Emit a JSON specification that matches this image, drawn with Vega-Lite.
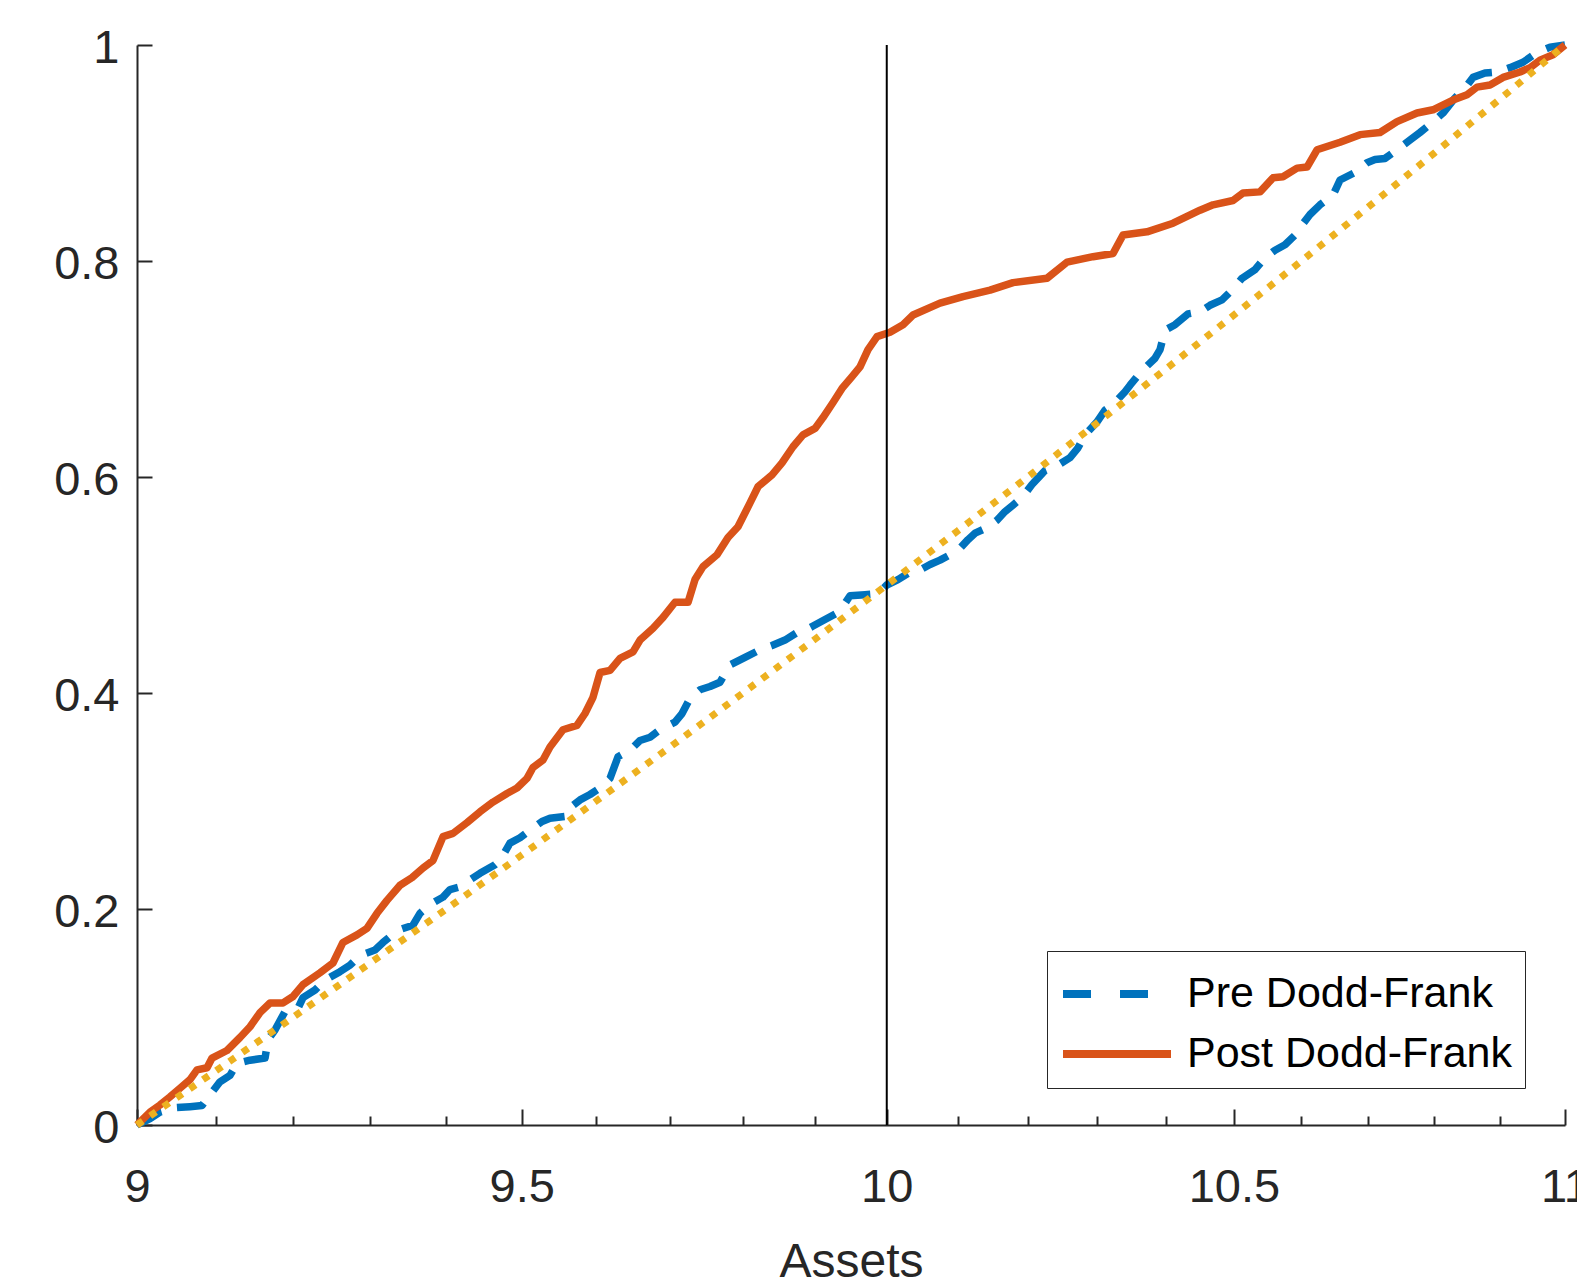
{
  "$schema": "https://vega.github.io/schema/vega-lite/v6.json",
  "width": 1428,
  "height": 1080,
  "autosize": "none",
  "padding": {"left": 137, "top": 45, "right": 12, "bottom": 156},
  "background": "white",
  "config": {"view": {"stroke": null}, "font": "Liberation Sans"},
  "datasets": {
    "curves": [
      {"s":"Pre Dodd-Frank","x":9.0,"y":0},
      {"s":"Pre Dodd-Frank","x":9.0165,"y":0.006},
      {"s":"Pre Dodd-Frank","x":9.0291,"y":0.012},
      {"s":"Pre Dodd-Frank","x":9.0482,"y":0.016},
      {"s":"Pre Dodd-Frank","x":9.0673,"y":0.017},
      {"s":"Pre Dodd-Frank","x":9.0826,"y":0.018},
      {"s":"Pre Dodd-Frank","x":9.0928,"y":0.028},
      {"s":"Pre Dodd-Frank","x":9.1056,"y":0.040},
      {"s":"Pre Dodd-Frank","x":9.1184,"y":0.046},
      {"s":"Pre Dodd-Frank","x":9.1274,"y":0.057},
      {"s":"Pre Dodd-Frank","x":9.1441,"y":0.060},
      {"s":"Pre Dodd-Frank","x":9.1634,"y":0.062},
      {"s":"Pre Dodd-Frank","x":9.1672,"y":0.079},
      {"s":"Pre Dodd-Frank","x":9.1762,"y":0.088},
      {"s":"Pre Dodd-Frank","x":9.1891,"y":0.105},
      {"s":"Pre Dodd-Frank","x":9.2059,"y":0.108},
      {"s":"Pre Dodd-Frank","x":9.2124,"y":0.118},
      {"s":"Pre Dodd-Frank","x":9.2280,"y":0.125},
      {"s":"Pre Dodd-Frank","x":9.2409,"y":0.134},
      {"s":"Pre Dodd-Frank","x":9.2604,"y":0.142},
      {"s":"Pre Dodd-Frank","x":9.2735,"y":0.148},
      {"s":"Pre Dodd-Frank","x":9.2865,"y":0.157},
      {"s":"Pre Dodd-Frank","x":9.3061,"y":0.162},
      {"s":"Pre Dodd-Frank","x":9.3166,"y":0.169},
      {"s":"Pre Dodd-Frank","x":9.3284,"y":0.176},
      {"s":"Pre Dodd-Frank","x":9.3389,"y":0.181},
      {"s":"Pre Dodd-Frank","x":9.3559,"y":0.185},
      {"s":"Pre Dodd-Frank","x":9.3651,"y":0.196},
      {"s":"Pre Dodd-Frank","x":9.3783,"y":0.204},
      {"s":"Pre Dodd-Frank","x":9.3955,"y":0.211},
      {"s":"Pre Dodd-Frank","x":9.4047,"y":0.218},
      {"s":"Pre Dodd-Frank","x":9.4153,"y":0.220},
      {"s":"Pre Dodd-Frank","x":9.4312,"y":0.227},
      {"s":"Pre Dodd-Frank","x":9.4444,"y":0.233},
      {"s":"Pre Dodd-Frank","x":9.4644,"y":0.241},
      {"s":"Pre Dodd-Frank","x":9.4710,"y":0.245},
      {"s":"Pre Dodd-Frank","x":9.4843,"y":0.261},
      {"s":"Pre Dodd-Frank","x":9.4977,"y":0.266},
      {"s":"Pre Dodd-Frank","x":9.5150,"y":0.275},
      {"s":"Pre Dodd-Frank","x":9.5271,"y":0.281},
      {"s":"Pre Dodd-Frank","x":9.5378,"y":0.284},
      {"s":"Pre Dodd-Frank","x":9.5620,"y":0.286},
      {"s":"Pre Dodd-Frank","x":9.5687,"y":0.296},
      {"s":"Pre Dodd-Frank","x":9.5781,"y":0.301},
      {"s":"Pre Dodd-Frank","x":9.5916,"y":0.306},
      {"s":"Pre Dodd-Frank","x":9.6051,"y":0.312},
      {"s":"Pre Dodd-Frank","x":9.6186,"y":0.321},
      {"s":"Pre Dodd-Frank","x":9.6294,"y":0.341},
      {"s":"Pre Dodd-Frank","x":9.6456,"y":0.347},
      {"s":"Pre Dodd-Frank","x":9.6592,"y":0.356},
      {"s":"Pre Dodd-Frank","x":9.6728,"y":0.359},
      {"s":"Pre Dodd-Frank","x":9.6864,"y":0.366},
      {"s":"Pre Dodd-Frank","x":9.7068,"y":0.373},
      {"s":"Pre Dodd-Frank","x":9.7164,"y":0.381},
      {"s":"Pre Dodd-Frank","x":9.7273,"y":0.395},
      {"s":"Pre Dodd-Frank","x":9.7410,"y":0.403},
      {"s":"Pre Dodd-Frank","x":9.7547,"y":0.406},
      {"s":"Pre Dodd-Frank","x":9.7684,"y":0.410},
      {"s":"Pre Dodd-Frank","x":9.7821,"y":0.426},
      {"s":"Pre Dodd-Frank","x":9.8028,"y":0.433},
      {"s":"Pre Dodd-Frank","x":9.8235,"y":0.440},
      {"s":"Pre Dodd-Frank","x":9.8401,"y":0.444},
      {"s":"Pre Dodd-Frank","x":9.8580,"y":0.449},
      {"s":"Pre Dodd-Frank","x":9.8747,"y":0.456},
      {"s":"Pre Dodd-Frank","x":9.8858,"y":0.458},
      {"s":"Pre Dodd-Frank","x":9.8969,"y":0.462},
      {"s":"Pre Dodd-Frank","x":9.9136,"y":0.468},
      {"s":"Pre Dodd-Frank","x":9.9303,"y":0.474},
      {"s":"Pre Dodd-Frank","x":9.9415,"y":0.483},
      {"s":"Pre Dodd-Frank","x":9.9485,"y":0.490},
      {"s":"Pre Dodd-Frank","x":9.9695,"y":0.491},
      {"s":"Pre Dodd-Frank","x":9.9877,"y":0.492},
      {"s":"Pre Dodd-Frank","x":10.0,"y":0.500},
      {"s":"Pre Dodd-Frank","x":10.0158,"y":0.505},
      {"s":"Pre Dodd-Frank","x":10.0327,"y":0.512},
      {"s":"Pre Dodd-Frank","x":10.0469,"y":0.514},
      {"s":"Pre Dodd-Frank","x":10.0610,"y":0.519},
      {"s":"Pre Dodd-Frank","x":10.0751,"y":0.523},
      {"s":"Pre Dodd-Frank","x":10.0893,"y":0.528},
      {"s":"Pre Dodd-Frank","x":10.1035,"y":0.534},
      {"s":"Pre Dodd-Frank","x":10.1148,"y":0.542},
      {"s":"Pre Dodd-Frank","x":10.1248,"y":0.548},
      {"s":"Pre Dodd-Frank","x":10.1419,"y":0.553},
      {"s":"Pre Dodd-Frank","x":10.1561,"y":0.560},
      {"s":"Pre Dodd-Frank","x":10.1676,"y":0.568},
      {"s":"Pre Dodd-Frank","x":10.1790,"y":0.574},
      {"s":"Pre Dodd-Frank","x":10.1919,"y":0.581},
      {"s":"Pre Dodd-Frank","x":10.2062,"y":0.593},
      {"s":"Pre Dodd-Frank","x":10.2177,"y":0.601},
      {"s":"Pre Dodd-Frank","x":10.2249,"y":0.606},
      {"s":"Pre Dodd-Frank","x":10.2436,"y":0.611},
      {"s":"Pre Dodd-Frank","x":10.2609,"y":0.618},
      {"s":"Pre Dodd-Frank","x":10.2724,"y":0.627},
      {"s":"Pre Dodd-Frank","x":10.2825,"y":0.639},
      {"s":"Pre Dodd-Frank","x":10.2999,"y":0.651},
      {"s":"Pre Dodd-Frank","x":10.3115,"y":0.662},
      {"s":"Pre Dodd-Frank","x":10.3231,"y":0.667},
      {"s":"Pre Dodd-Frank","x":10.3405,"y":0.679},
      {"s":"Pre Dodd-Frank","x":10.3478,"y":0.685},
      {"s":"Pre Dodd-Frank","x":10.3594,"y":0.694},
      {"s":"Pre Dodd-Frank","x":10.3696,"y":0.701},
      {"s":"Pre Dodd-Frank","x":10.3842,"y":0.710},
      {"s":"Pre Dodd-Frank","x":10.3915,"y":0.718},
      {"s":"Pre Dodd-Frank","x":10.3988,"y":0.736},
      {"s":"Pre Dodd-Frank","x":10.4134,"y":0.741},
      {"s":"Pre Dodd-Frank","x":10.4324,"y":0.751},
      {"s":"Pre Dodd-Frank","x":10.4500,"y":0.753},
      {"s":"Pre Dodd-Frank","x":10.4647,"y":0.759},
      {"s":"Pre Dodd-Frank","x":10.4824,"y":0.764},
      {"s":"Pre Dodd-Frank","x":10.4971,"y":0.773},
      {"s":"Pre Dodd-Frank","x":10.5119,"y":0.784},
      {"s":"Pre Dodd-Frank","x":10.5311,"y":0.792},
      {"s":"Pre Dodd-Frank","x":10.5459,"y":0.803},
      {"s":"Pre Dodd-Frank","x":10.5608,"y":0.810},
      {"s":"Pre Dodd-Frank","x":10.5756,"y":0.815},
      {"s":"Pre Dodd-Frank","x":10.5905,"y":0.824},
      {"s":"Pre Dodd-Frank","x":10.5979,"y":0.831},
      {"s":"Pre Dodd-Frank","x":10.6128,"y":0.843},
      {"s":"Pre Dodd-Frank","x":10.6277,"y":0.852},
      {"s":"Pre Dodd-Frank","x":10.6472,"y":0.861},
      {"s":"Pre Dodd-Frank","x":10.6577,"y":0.875},
      {"s":"Pre Dodd-Frank","x":10.6802,"y":0.882},
      {"s":"Pre Dodd-Frank","x":10.6982,"y":0.891},
      {"s":"Pre Dodd-Frank","x":10.7102,"y":0.894},
      {"s":"Pre Dodd-Frank","x":10.7253,"y":0.895},
      {"s":"Pre Dodd-Frank","x":10.7434,"y":0.903},
      {"s":"Pre Dodd-Frank","x":10.7630,"y":0.912},
      {"s":"Pre Dodd-Frank","x":10.7781,"y":0.919},
      {"s":"Pre Dodd-Frank","x":10.7963,"y":0.928},
      {"s":"Pre Dodd-Frank","x":10.8130,"y":0.937},
      {"s":"Pre Dodd-Frank","x":10.8313,"y":0.951},
      {"s":"Pre Dodd-Frank","x":10.8465,"y":0.960},
      {"s":"Pre Dodd-Frank","x":10.8587,"y":0.970},
      {"s":"Pre Dodd-Frank","x":10.8770,"y":0.974},
      {"s":"Pre Dodd-Frank","x":10.8954,"y":0.975},
      {"s":"Pre Dodd-Frank","x":10.9153,"y":0.979},
      {"s":"Pre Dodd-Frank","x":10.9353,"y":0.984},
      {"s":"Pre Dodd-Frank","x":10.9568,"y":0.993},
      {"s":"Pre Dodd-Frank","x":10.9769,"y":0.998},
      {"s":"Pre Dodd-Frank","x":11.0,"y":1.0},
      {"s":"Post Dodd-Frank","x":9.0,"y":0},
      {"s":"Post Dodd-Frank","x":9.0165,"y":0.012},
      {"s":"Post Dodd-Frank","x":9.0291,"y":0.0185},
      {"s":"Post Dodd-Frank","x":9.0418,"y":0.026},
      {"s":"Post Dodd-Frank","x":9.0545,"y":0.034},
      {"s":"Post Dodd-Frank","x":9.0673,"y":0.042},
      {"s":"Post Dodd-Frank","x":9.0762,"y":0.051},
      {"s":"Post Dodd-Frank","x":9.0890,"y":0.053},
      {"s":"Post Dodd-Frank","x":9.0954,"y":0.062},
      {"s":"Post Dodd-Frank","x":9.1145,"y":0.069},
      {"s":"Post Dodd-Frank","x":9.1312,"y":0.081},
      {"s":"Post Dodd-Frank","x":9.1441,"y":0.091},
      {"s":"Post Dodd-Frank","x":9.1569,"y":0.104},
      {"s":"Post Dodd-Frank","x":9.1698,"y":0.113},
      {"s":"Post Dodd-Frank","x":9.1866,"y":0.113},
      {"s":"Post Dodd-Frank","x":9.1995,"y":0.119},
      {"s":"Post Dodd-Frank","x":9.2124,"y":0.130},
      {"s":"Post Dodd-Frank","x":9.2345,"y":0.141},
      {"s":"Post Dodd-Frank","x":9.2513,"y":0.150},
      {"s":"Post Dodd-Frank","x":9.2643,"y":0.169},
      {"s":"Post Dodd-Frank","x":9.2826,"y":0.176},
      {"s":"Post Dodd-Frank","x":9.2956,"y":0.182},
      {"s":"Post Dodd-Frank","x":9.3087,"y":0.196},
      {"s":"Post Dodd-Frank","x":9.3218,"y":0.208},
      {"s":"Post Dodd-Frank","x":9.3389,"y":0.222},
      {"s":"Post Dodd-Frank","x":9.3546,"y":0.229},
      {"s":"Post Dodd-Frank","x":9.3691,"y":0.238},
      {"s":"Post Dodd-Frank","x":9.3823,"y":0.245},
      {"s":"Post Dodd-Frank","x":9.3955,"y":0.267},
      {"s":"Post Dodd-Frank","x":9.4087,"y":0.270},
      {"s":"Post Dodd-Frank","x":9.4272,"y":0.280},
      {"s":"Post Dodd-Frank","x":9.4444,"y":0.290},
      {"s":"Post Dodd-Frank","x":9.4617,"y":0.299},
      {"s":"Post Dodd-Frank","x":9.4803,"y":0.307},
      {"s":"Post Dodd-Frank","x":9.4937,"y":0.312},
      {"s":"Post Dodd-Frank","x":9.5070,"y":0.321},
      {"s":"Post Dodd-Frank","x":9.5150,"y":0.331},
      {"s":"Post Dodd-Frank","x":9.5284,"y":0.338},
      {"s":"Post Dodd-Frank","x":9.5378,"y":0.350},
      {"s":"Post Dodd-Frank","x":9.5552,"y":0.366},
      {"s":"Post Dodd-Frank","x":9.5740,"y":0.370},
      {"s":"Post Dodd-Frank","x":9.5848,"y":0.381},
      {"s":"Post Dodd-Frank","x":9.5956,"y":0.396},
      {"s":"Post Dodd-Frank","x":9.6051,"y":0.419},
      {"s":"Post Dodd-Frank","x":9.6186,"y":0.421},
      {"s":"Post Dodd-Frank","x":9.6321,"y":0.432},
      {"s":"Post Dodd-Frank","x":9.6497,"y":0.438},
      {"s":"Post Dodd-Frank","x":9.6592,"y":0.449},
      {"s":"Post Dodd-Frank","x":9.6769,"y":0.460},
      {"s":"Post Dodd-Frank","x":9.6905,"y":0.470},
      {"s":"Post Dodd-Frank","x":9.7068,"y":0.484},
      {"s":"Post Dodd-Frank","x":9.7246,"y":0.484},
      {"s":"Post Dodd-Frank","x":9.7341,"y":0.505},
      {"s":"Post Dodd-Frank","x":9.7451,"y":0.517},
      {"s":"Post Dodd-Frank","x":9.7643,"y":0.528},
      {"s":"Post Dodd-Frank","x":9.7794,"y":0.544},
      {"s":"Post Dodd-Frank","x":9.7931,"y":0.554},
      {"s":"Post Dodd-Frank","x":9.8097,"y":0.576},
      {"s":"Post Dodd-Frank","x":9.8207,"y":0.591},
      {"s":"Post Dodd-Frank","x":9.8401,"y":0.602},
      {"s":"Post Dodd-Frank","x":9.8539,"y":0.613},
      {"s":"Post Dodd-Frank","x":9.8691,"y":0.628},
      {"s":"Post Dodd-Frank","x":9.8830,"y":0.639},
      {"s":"Post Dodd-Frank","x":9.8997,"y":0.645},
      {"s":"Post Dodd-Frank","x":9.9108,"y":0.655},
      {"s":"Post Dodd-Frank","x":9.9248,"y":0.669},
      {"s":"Post Dodd-Frank","x":9.9373,"y":0.682},
      {"s":"Post Dodd-Frank","x":9.9513,"y":0.693},
      {"s":"Post Dodd-Frank","x":9.9625,"y":0.702},
      {"s":"Post Dodd-Frank","x":9.9737,"y":0.718},
      {"s":"Post Dodd-Frank","x":9.9863,"y":0.730},
      {"s":"Post Dodd-Frank","x":10.0046,"y":0.734},
      {"s":"Post Dodd-Frank","x":10.0229,"y":0.741},
      {"s":"Post Dodd-Frank","x":10.0370,"y":0.750},
      {"s":"Post Dodd-Frank","x":10.0751,"y":0.761},
      {"s":"Post Dodd-Frank","x":10.1077,"y":0.767},
      {"s":"Post Dodd-Frank","x":10.1462,"y":0.773},
      {"s":"Post Dodd-Frank","x":10.1790,"y":0.780},
      {"s":"Post Dodd-Frank","x":10.2278,"y":0.784},
      {"s":"Post Dodd-Frank","x":10.2566,"y":0.799},
      {"s":"Post Dodd-Frank","x":10.2941,"y":0.804},
      {"s":"Post Dodd-Frank","x":10.3231,"y":0.807},
      {"s":"Post Dodd-Frank","x":10.3376,"y":0.824},
      {"s":"Post Dodd-Frank","x":10.3725,"y":0.827},
      {"s":"Post Dodd-Frank","x":10.4105,"y":0.835},
      {"s":"Post Dodd-Frank","x":10.4500,"y":0.847},
      {"s":"Post Dodd-Frank","x":10.4692,"y":0.852},
      {"s":"Post Dodd-Frank","x":10.4986,"y":0.856},
      {"s":"Post Dodd-Frank","x":10.5134,"y":0.863},
      {"s":"Post Dodd-Frank","x":10.5385,"y":0.864},
      {"s":"Post Dodd-Frank","x":10.5578,"y":0.877},
      {"s":"Post Dodd-Frank","x":10.5726,"y":0.878},
      {"s":"Post Dodd-Frank","x":10.5935,"y":0.886},
      {"s":"Post Dodd-Frank","x":10.6084,"y":0.887},
      {"s":"Post Dodd-Frank","x":10.6233,"y":0.903},
      {"s":"Post Dodd-Frank","x":10.6577,"y":0.910},
      {"s":"Post Dodd-Frank","x":10.6877,"y":0.917},
      {"s":"Post Dodd-Frank","x":10.7177,"y":0.919},
      {"s":"Post Dodd-Frank","x":10.7434,"y":0.929},
      {"s":"Post Dodd-Frank","x":10.7736,"y":0.937},
      {"s":"Post Dodd-Frank","x":10.7979,"y":0.940},
      {"s":"Post Dodd-Frank","x":10.8282,"y":0.949},
      {"s":"Post Dodd-Frank","x":10.8496,"y":0.954},
      {"s":"Post Dodd-Frank","x":10.8648,"y":0.961},
      {"s":"Post Dodd-Frank","x":10.8847,"y":0.963},
      {"s":"Post Dodd-Frank","x":10.9046,"y":0.970},
      {"s":"Post Dodd-Frank","x":10.9307,"y":0.975},
      {"s":"Post Dodd-Frank","x":10.9461,"y":0.979},
      {"s":"Post Dodd-Frank","x":10.9614,"y":0.986},
      {"s":"Post Dodd-Frank","x":10.9815,"y":0.991},
      {"s":"Post Dodd-Frank","x":11.0,"y":1.0}
    ],
    "uniform": [
      {"x":9.0,"y":0.0},{"x":9.1,"y":0.05},{"x":9.2,"y":0.1},{"x":9.3,"y":0.15},{"x":9.4,"y":0.2},
      {"x":9.5,"y":0.25},{"x":9.6,"y":0.3},{"x":9.7,"y":0.35},{"x":9.8,"y":0.4},{"x":9.9,"y":0.45},
      {"x":10.0,"y":0.5},{"x":10.1,"y":0.55},{"x":10.2,"y":0.6},{"x":10.3,"y":0.65},{"x":10.4,"y":0.7},
      {"x":10.5,"y":0.75},{"x":10.6,"y":0.8},{"x":10.7,"y":0.85},{"x":10.8,"y":0.9},{"x":10.9,"y":0.95},
      {"x":11.0,"y":1.0}
    ]
  },
  "layer": [
    {
      "encoding": {
        "x": {
          "field": "x", "type": "quantitative",
          "scale": {"type": "log", "domain": [9, 11], "nice": false, "zero": false},
          "axis": {
            "orient": "bottom",
            "values": [9, 9.5, 10, 10.5, 11],
            "format": "~g",
            "labelFlush": false,
            "labelOverlap": false,
            "grid": false,
            "tickSize": -16,
            "tickWidth": 2,
            "tickColor": "#262626",
            "domainColor": "#262626",
            "domainWidth": 2,
            "labelFont": "Liberation Sans",
            "labelFontSize": 47,
            "labelColor": "#262626",
            "labelPadding": 55,
            "title": "Assets",
            "titleFont": "Liberation Sans",
            "titleFontSize": 48,
            "titleFontWeight": "normal",
            "titleColor": "#262626",
            "titleBaseline": "alphabetic",
            "titleY": 151
          }
        },
        "y": {
          "field": "y", "type": "quantitative",
          "scale": {"domain": [0, 1], "nice": false},
          "axis": {
            "values": [0, 0.2, 0.4, 0.6, 0.8, 1],
            "format": "~g",
            "labelFlush": false,
            "labelOverlap": false,
            "grid": false,
            "tickSize": -15,
            "tickWidth": 2,
            "tickColor": "#262626",
            "domainColor": "#262626",
            "domainWidth": 2,
            "labelFont": "Liberation Sans",
            "labelFontSize": 47,
            "labelColor": "#262626",
            "labelPadding": 33,
            "labelOffset": 3,
            "title": null
          }
        },
        "color": {
          "field": "s", "type": "nominal",
          "scale": {"domain": ["Pre Dodd-Frank", "Post Dodd-Frank"], "range": ["#0072BD", "#D95319"]},
          "legend": {
            "title": null, "orient": "none", "legendX": 910, "legendY": 906,
            "direction": "vertical", "symbolType": "M-1,0H3", "symbolSize": 2916,
            "symbolStrokeWidth": 8, "labelFont": "Liberation Sans", "labelFontSize": 43,
            "labelColor": "black", "labelOffset": 66, "labelLimit": 0, "padding": 12,
            "rowPadding": 7, "strokeColor": "#262626", "fillColor": "white",
            "encode": {"symbols": {"update": {"strokeDash": {"signal": "datum.value === 'Pre Dodd-Frank' ? [28, 29] : [1, 0]"}}}}
          }
        }
      },
      "layer": [
        {
          "data": {"name": "curves"},
          "transform": [{"filter": "datum.s === 'Pre Dodd-Frank'"}],
          "mark": {"type": "line", "strokeWidth": 7.5, "strokeJoin": "round", "strokeDash": [28, 16]}
        },
        {
          "data": {"name": "curves"},
          "transform": [{"filter": "datum.s === 'Post Dodd-Frank'"}],
          "mark": {"type": "line", "strokeWidth": 7.5, "strokeJoin": "round"}
        },
        {
          "data": {"name": "uniform"},
          "mark": {"type": "line", "color": "#EDB120", "strokeWidth": 7, "strokeDash": [7, 9]},
          "encoding": {"color": {"value": "#EDB120"}}
        }
      ]
    },
    {
      "data": {"values": [{"x": 10}]},
      "mark": {"type": "rule", "color": "black", "strokeWidth": 2},
      "encoding": {
        "x": {
          "field": "x", "type": "quantitative",
          "scale": {"type": "log", "domain": [9, 11], "nice": false, "zero": false},
          "axis": {
            "orient": "bottom",
            "values": [9.1, 9.2, 9.3, 9.4, 9.6, 9.7, 9.8, 9.9, 10.1, 10.2, 10.3, 10.4, 10.6, 10.7, 10.8, 10.9],
            "labels": false,
            "domain": false,
            "grid": false,
            "tickSize": -9,
            "tickWidth": 2,
            "tickColor": "#262626",
            "title": null
          }
        }
      }
    }
  ],
  "resolve": {"axis": {"x": "independent"}}
}
